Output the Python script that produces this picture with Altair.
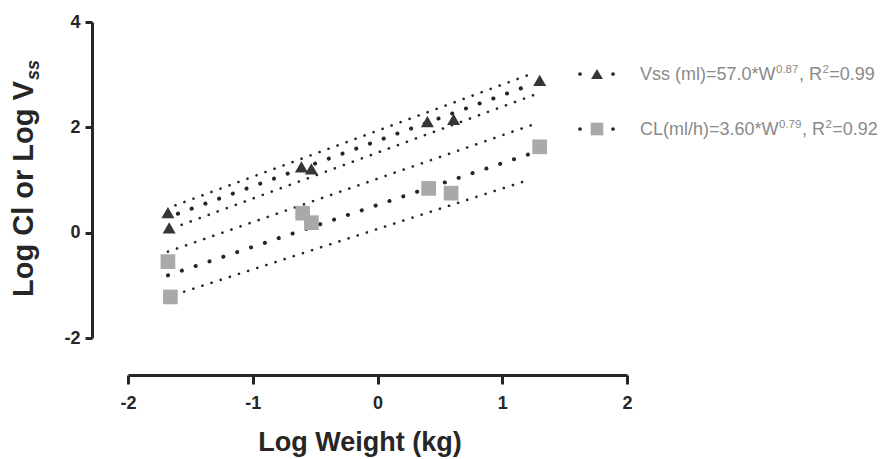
import altair as alt
import pandas as pd

# ---------------- data ----------------
vss_x = [-1.68, -1.67, -0.61, -0.53, 0.40, 0.61, 1.30]
vss_y = [0.38, 0.09, 1.25, 1.21, 2.11, 2.15, 2.89]
cl_x = [-1.68, -1.66, -0.60, -0.53, 0.41, 0.59, 1.30]
cl_y = [-0.55, -1.22, 0.37, 0.19, 0.84, 0.75, 1.63]

# fitted lines (start / end) and confidence bands
fit_ids = ["vss_fit", "vss_fit", "cl_fit", "cl_fit"]
fit_x = [-1.60, 1.22, -1.68, 1.24]
fit_y = [0.36, 2.80, -0.81, 1.51]
band_ids = ["vss_hi", "vss_hi", "vss_lo", "vss_lo", "cl_hi", "cl_hi", "cl_lo", "cl_lo"]
band_x = [-1.62, 1.25, -1.57, 1.26, -1.68, 1.28, -1.55, 1.21]
band_y = [0.52, 3.03, 0.15, 2.62, -0.36, 2.08, -1.12, 1.00]

x_ticks = [-2, -1, 0, 1, 2]
y_ticks = [-2, 0, 2, 4]

legend_main = ["Vss (ml)=57.0*W", "CL(ml/h)=3.60*W"]
legend_exp = ["0.87", "0.79"]
legend_r2 = ["0.99", "0.92"]

x_title = "Log Weight (kg)"
y_title_main = "Log Cl or Log V"
y_title_sub = "ss"

# ---------------- styling ----------------
FONT = "Liberation Sans"
DARK = "#262626"
TRI = "#363636"
SQ = "#a9a9a9"
LEG_TXT = "#8a8a8a"

W, H = 499, 316
PAD = {"left": 128, "top": 22, "right": 889 - 128 - W, "bottom": 459 - 22 - H}

# Arial / Liberation Sans advance widths (em)
AW = {"V": .667, "s": .5, " ": .278, "(": .333, ")": .333, "m": .833, "l": .222,
      "=": .584, ".": .278, "*": .389, "W": .944, "C": .722, "L": .556, "/": .278,
      "h": .556, ",": .278, "R": .722}
for d in "0123456789":
    AW[d] = .556


def tw(s, fs):
    return sum(AW.get(c, .556) for c in s) * fs


pts = pd.DataFrame({
    "x": vss_x + cl_x,
    "y": vss_y + cl_y,
    "s": ["Vss"] * len(vss_x) + ["CL"] * len(cl_x),
})
fits = pd.DataFrame({"id": fit_ids, "x": fit_x, "y": fit_y})
bands = pd.DataFrame({"id": band_ids, "x": band_x, "y": band_y})

xs = alt.Scale(domain=[-2, 2], nice=False, zero=False)
ys = alt.Scale(domain=[-2, 4], nice=False, zero=False)

lab_expr = "replace(datum.label, '\u2212', '-')"
axis_style = dict(grid=False, domainColor=DARK, domainWidth=3, tickColor=DARK,
                  tickWidth=3, labelFont=FONT, labelFontSize=18,
                  labelFontWeight="bold", labelColor=DARK, labelExpr=lab_expr,
                  labelFlush=False, labelOverlap=False, title=None)
x_axis = alt.Axis(values=x_ticks, offset=37, tickSize=9, labelPadding=10, **axis_style)
y_axis = alt.Axis(values=y_ticks, offset=36, tickSize=7, labelPadding=5, **axis_style)

base_x = alt.X("x:Q", scale=xs, axis=x_axis)
base_y = alt.Y("y:Q", scale=ys, axis=y_axis)

band_layer = alt.Chart(bands).mark_line(
    color=DARK, strokeWidth=2.6, strokeDash=[0.1, 9.5], strokeCap="round"
).encode(x=base_x, y=base_y, detail="id:N")

fit_layer = alt.Chart(fits).mark_line(
    color=DARK, strokeWidth=4, strokeDash=[0.1, 14.5], strokeCap="round"
).encode(x=base_x, y=base_y, detail="id:N")

tri_layer = alt.Chart(pts).transform_filter("datum.s == 'Vss'").mark_point(
    shape="triangle-up", filled=True, size=170, color=TRI, opacity=1
).encode(x=base_x, y=base_y)

sq_layer = alt.Chart(pts).transform_filter("datum.s == 'CL'").mark_point(
    shape="square", filled=True, size=215, color=SQ, opacity=1
).encode(x=base_x, y=base_y)

layers = [band_layer, fit_layer, sq_layer, tri_layer]

one = pd.DataFrame({"k": [0]})


def txt(s, px, py, fs, color, align="left", weight="normal", angle=0, style="normal"):
    kw = dict(align=align, baseline="alphabetic", fontSize=fs, font=FONT,
              color=color, fontWeight=weight, fontStyle=style)
    if angle:
        kw["angle"] = angle
    return alt.Chart(pd.DataFrame({"t": [s]})).mark_text(**kw).encode(
        x=alt.value(px), y=alt.value(py), text="t:N")


def sym(px, py, shape, size, color):
    return alt.Chart(one).mark_point(shape=shape, filled=True, size=size,
                                     color=color, opacity=1).encode(
        x=alt.value(px), y=alt.value(py))


# legend
row_y = [52, 107]
shapes = [("triangle-up", 140, TRI), ("square", 160, SQ)]
FM, FS = 18, 11.5
for i in range(2):
    cy = row_y[i]
    layers.append(sym(452, cy, "circle", 14, DARK))
    layers.append(sym(485, cy, "circle", 14, DARK))
    layers.append(sym(469, cy, *shapes[i]))
    bl = cy + 6
    x0 = 512
    layers.append(txt(legend_main[i], x0, bl, FM, LEG_TXT))
    x1 = x0 + tw(legend_main[i], FM) + 0.5
    layers.append(txt(legend_exp[i], x1, bl - 7.5, FS, LEG_TXT))
    x2 = x1 + tw(legend_exp[i], FS) + 0.5
    layers.append(txt(", R", x2, bl, FM, LEG_TXT))
    x3 = x2 + tw(", R", FM) + 0.5
    layers.append(txt("2", x3, bl - 7.5, FS, LEG_TXT))
    x4 = x3 + tw("2", FS) + 0.5
    layers.append(txt("=" + legend_r2[i], x4, bl, FM, LEG_TXT))

# axis titles
layers.append(txt(x_title, 232, 429, 27, DARK, align="center", weight="bold"))
YT = 29
y_start = 275
layers.append(txt(y_title_main, -95, y_start, YT, DARK, weight="bold", angle=270))
main_len = sum({"L": .611, "o": .611, "g": .611, " ": .278, "C": .722, "l": .278,
                "r": .389, "V": .667}.get(c, .6) for c in y_title_main) * YT
layers.append(txt(y_title_sub, -89, y_start - main_len - 1, 18, DARK,
                  weight="bold", angle=270, style="italic"))

chart = alt.layer(*layers).properties(
    width=W, height=H,
    autosize=alt.AutoSizeParams(type="none"),
    padding=PAD,
).configure(background="white").configure_view(stroke=None)

chart.save("out.html", embed_options={"renderer": "svg", "actions": False})
